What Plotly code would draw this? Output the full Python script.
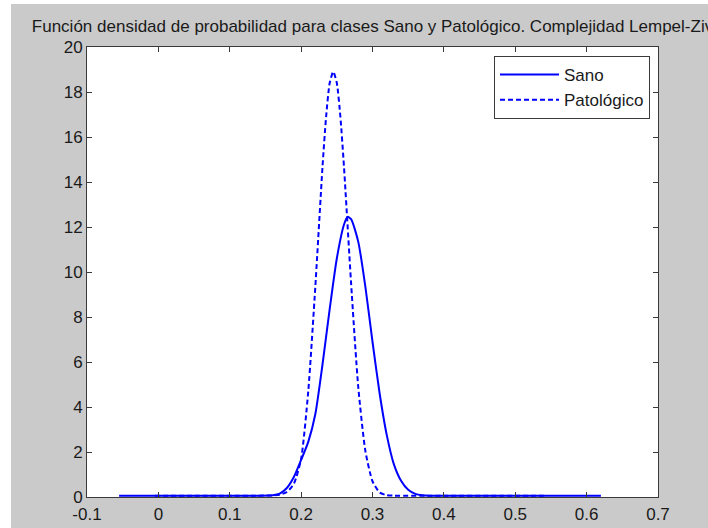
import plotly.graph_objects as go

# ---- data ----
sano_x = [-0.055, 0.0, 0.05, 0.10, 0.14, 0.16, 0.17, 0.18, 0.19, 0.20, 0.21, 0.22, 0.23,
          0.24, 0.25, 0.26, 0.265, 0.27, 0.28, 0.29, 0.30, 0.31, 0.32, 0.33, 0.34, 0.35,
          0.36, 0.37, 0.38, 0.45, 0.55, 0.62]
sano_y = [0.06, 0.06, 0.06, 0.06, 0.06, 0.08, 0.15, 0.40, 0.90, 1.65, 2.45, 3.70, 5.90,
          8.35, 10.6, 12.1, 12.45, 12.35, 11.35, 9.35, 6.90, 4.60, 2.75, 1.45, 0.72, 0.32,
          0.14, 0.08, 0.06, 0.06, 0.06, 0.06]

pato_x = [-0.005, 0.05, 0.10, 0.14, 0.16, 0.17, 0.18, 0.19, 0.20, 0.21, 0.22, 0.23, 0.235,
          0.24, 0.245, 0.25, 0.255, 0.26, 0.27, 0.28, 0.29, 0.30, 0.31, 0.32, 0.33, 0.40,
          0.48, 0.54]
pato_y = [0.06, 0.06, 0.06, 0.06, 0.07, 0.10, 0.22, 0.60, 1.70, 4.70, 9.40, 14.70, 16.9,
          18.4, 18.9, 18.4, 16.9, 14.7, 9.5, 4.9, 2.05, 0.7, 0.2, 0.08, 0.06, 0.06,
          0.06, 0.06]

x_ticks = [-0.1, 0.0, 0.1, 0.2, 0.3, 0.4, 0.5, 0.6, 0.7]
x_tick_labels = ["-0.1", "0", "0.1", "0.2", "0.3", "0.4", "0.5", "0.6", "0.7"]
y_ticks = [0, 2, 4, 6, 8, 10, 12, 14, 16, 18, 20]
y_tick_labels = [str(v) for v in y_ticks]

title_text = "Función densidad de probabilidad para clases Sano y Patológico. Complejidad Lempel-Ziv"
series_names = ["Sano", "Patológico"]

# ---- figure ----
W, H = 708, 528
L, R, T, B = 87, 50, 47, 31
pw, ph = W - L - R, H - T - B

def px2x(px):
    return (px - L) / pw

def py2y(py):
    return (H - B - py) / ph

FONT = "Liberation Sans, Arial, sans-serif"
blue = "#0000ff"

fig = go.Figure()
fig.add_trace(go.Scatter(x=sano_x, y=sano_y, mode="lines", name=series_names[0],
                         line=dict(color=blue, width=2, shape="spline", smoothing=0.6)))
fig.add_trace(go.Scatter(x=pato_x, y=pato_y, mode="lines", name=series_names[1],
                         line=dict(color=blue, width=2, dash="5px,3px", shape="spline", smoothing=0.6)))

axis_common = dict(showline=True, mirror="ticks", linecolor="#3a3a3a", linewidth=1,
                   ticks="inside", ticklen=5, tickcolor="#3a3a3a", tickwidth=1,
                   showgrid=False, zeroline=False, automargin=False,
                   tickfont=dict(family=FONT, size=17, color="#1a1a1a"))

fig.update_layout(
    width=W, height=H,
    margin=dict(l=L, r=R, t=T, b=B, pad=0, autoexpand=False),
    paper_bgcolor="#cacaca",
    plot_bgcolor="#ffffff",
    showlegend=True,
    title=dict(text=title_text, font=dict(family=FONT, size=17, color="#1a1a1a"),
               x=0.5, xref="paper", xanchor="center",
               y=1 - 26 / H, yref="container", yanchor="middle", automargin=False),
    xaxis=dict(range=[-0.1, 0.7], tickvals=x_ticks, ticktext=x_tick_labels,
               ticklabelstandoff=2, **axis_common),
    yaxis=dict(range=[0, 20], tickvals=y_ticks, ticktext=y_tick_labels, **axis_common),
    legend=dict(x=px2x(650), y=py2y(56), xanchor="right", yanchor="top",
                bgcolor="#ffffff", bordercolor="#3a3a3a", borderwidth=1,
                font=dict(family=FONT, size=17, color="#1a1a1a"),
                itemwidth=59, tracegroupgap=0),
    shapes=[
        dict(type="rect", xref="paper", yref="paper", x0=px2x(-5), x1=px2x(11),
             y0=py2y(H + 5), y1=py2y(-5), fillcolor="#ffffff", line=dict(width=0), layer="below"),
        dict(type="rect", xref="paper", yref="paper", x0=px2x(-5), x1=px2x(W + 5),
             y0=py2y(4), y1=py2y(-5), fillcolor="#ffffff", line=dict(width=0), layer="below"),
    ],
)

fig.write_html("out.html")
